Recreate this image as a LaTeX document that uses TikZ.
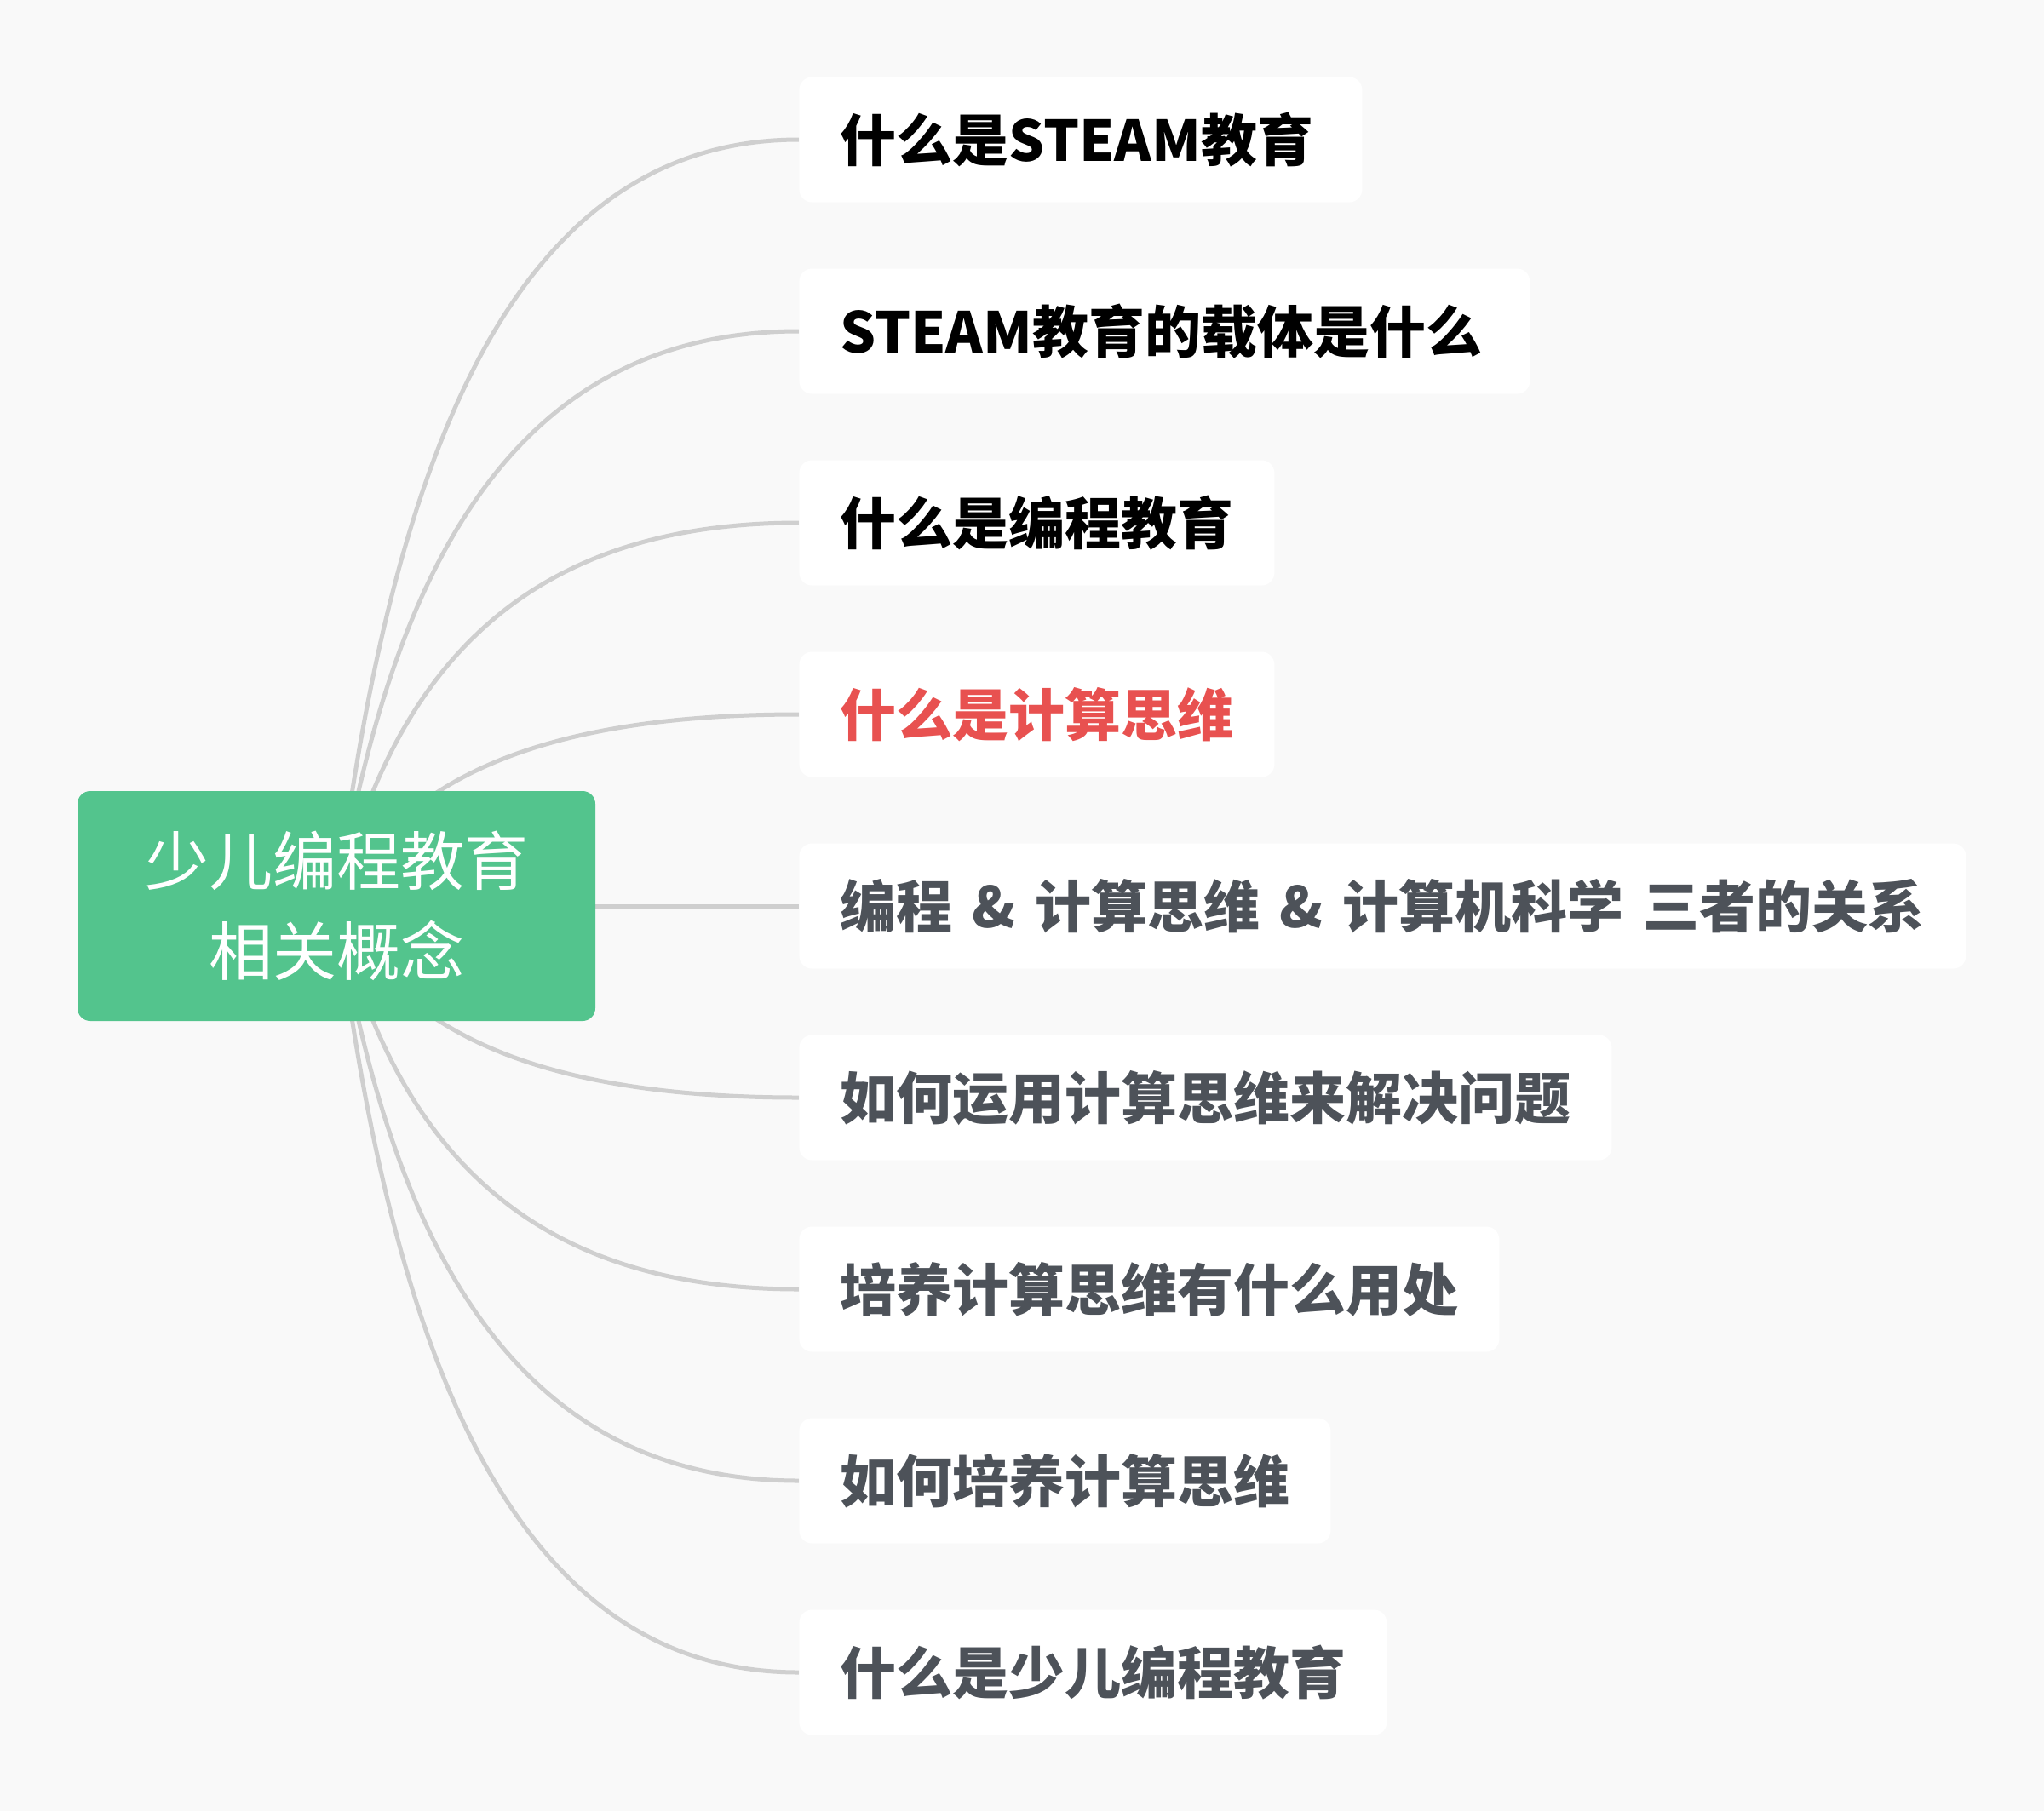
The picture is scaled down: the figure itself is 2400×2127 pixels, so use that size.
\documentclass[tikz,border=0pt]{standalone}
\usepackage{fontspec}
\newfontfamily\cjk{Noto Sans CJK SC}
\definecolor{bgcol}{HTML}{F9F9F9}
\definecolor{rootgreen}{HTML}{53C48D}
\definecolor{linegray}{HTML}{CFCFCF}
\definecolor{txtgray}{HTML}{4D5259}
\definecolor{txtred}{HTML}{E85150}
\pgfdeclarelayer{bg}
\pgfsetlayers{bg,main}
\tikzset{
  rootbox/.style={fill=rootgreen, text=white, rounded corners=7.5pt,
    minimum width=304pt, minimum height=135pt, inner sep=0pt, align=center,
    font=\cjk\fontsize{37.5pt}{53pt}\selectfont},
  leaf/.style={fill=white, rounded corners=7.5pt, minimum height=73.5pt,
    inner xsep=24pt, inner ysep=0pt, anchor=west,
    text height=28pt, text depth=3pt,
    font=\cjk\bfseries\fontsize{33pt}{40pt}\selectfont},
  fixw/.style={text width=#1, align=left},
  link/.style={draw=linegray, line width=2.5pt}
}
\begin{document}
\begin{tikzpicture}[x=0.5pt,y=-0.5pt]
\useasboundingbox (0,0) rectangle (2400,2127);
\node[rootbox] (root) at (395,1064) {少儿编程教育\\相关概念};
\node[leaf, text=black, fixw=282.5pt] (c1) at (938,164) {\mbox{什么是STEAM教育}};
\node[leaf, text=black, fixw=381pt] (c2) at (938,389) {\mbox{STEAM教育的载体是什么}};
\node[leaf, text=black] (c3) at (938,614) {什么是编程教育};
\node[leaf, text=txtred] (c4) at (938,839) {什么是计算思维};
\node[leaf, text=txtgray, fixw=637pt] (c5) at (938,1064) {\mbox{\spaceskip=11.5pt\relax 编程 \& 计算思维 \& 计算机科学 三者的关系}};
\node[leaf, text=txtgray] (c6) at (938,1289) {如何运用计算思维来解决问题};
\node[leaf, text=txtgray] (c7) at (938,1514) {培养计算思维有什么用处};
\node[leaf, text=txtgray] (c8) at (938,1739) {如何培养计算思维};
\node[leaf, text=txtgray] (c9) at (938,1964) {什么是少儿编程教育};
\begin{pgfonlayer}{bg}
\fill[bgcol] (0,0) rectangle (2400,2127);
\draw[link] (root.center) .. controls (461,515) and (613,164) .. (c1.west);
\draw[link] (root.center) .. controls (461,652) and (613,389) .. (c2.west);
\draw[link] (root.center) .. controls (461,789) and (613,614) .. (c3.west);
\draw[link] (root.center) .. controls (461,927) and (613,839) .. (c4.west);
\draw[link] (root.center) -- (c5.west);
\draw[link] (root.center) .. controls (461,1201) and (613,1289) .. (c6.west);
\draw[link] (root.center) .. controls (461,1339) and (613,1514) .. (c7.west);
\draw[link] (root.center) .. controls (461,1476) and (613,1739) .. (c8.west);
\draw[link] (root.center) .. controls (461,1613) and (613,1964) .. (c9.west);
\end{pgfonlayer}
\end{tikzpicture}
\end{document}
